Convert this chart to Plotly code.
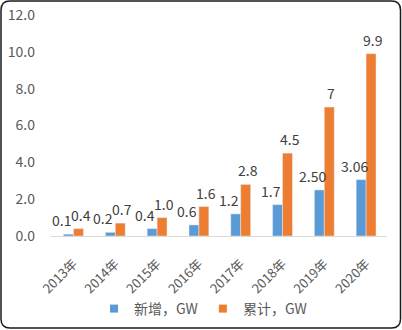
import plotly.graph_objects as go

years = ["2013年", "2014年", "2015年", "2016年", "2017年", "2018年", "2019年", "2020年"]
new_gw = [0.1, 0.2, 0.4, 0.6, 1.2, 1.7, 2.50, 3.06]
new_lbl = ["0.1", "0.2", "0.4", "0.6", "1.2", "1.7", "2.50", "3.06"]
cum_gw = [0.4, 0.7, 1.0, 1.6, 2.8, 4.5, 7, 9.9]
cum_lbl = ["0.4", "0.7", "1.0", "1.6", "2.8", "4.5", "7", "9.9"]
series_names = ["新增，GW", "累计，GW"]
y_ticks = [0, 2, 4, 6, 8, 10, 12]

BLUE = "#5B9BD5"
ORANGE = "#ED7D31"
FONT = "Noto Sans CJK SC"

W, H = 402, 330
ML, MR, MT, MB = 50, 15, 15, 94
PW, PH = W - ML - MR, H - MT - MB

fig = go.Figure()
fig.add_trace(go.Bar(x=years, y=new_gw, marker_color=BLUE, showlegend=False,
                     hoverinfo="y"))
fig.add_trace(go.Bar(x=years, y=cum_gw, marker_color=ORANGE, showlegend=False,
                     hoverinfo="y"))
# legend entries with small square markers
for name, col in zip(series_names, [BLUE, ORANGE]):
    fig.add_trace(go.Scatter(x=[None], y=[None], mode="markers", name=name,
                             marker=dict(symbol="square", size=8, color=col)))

ann = []
for x, v, t in zip(years, new_gw, new_lbl):
    ann.append(dict(x=x, y=v, text=t, showarrow=False, xanchor="center",
                    yanchor="bottom", xshift=-12, yshift=2,
                    font=dict(family=FONT, size=14, color="#404040")))
for x, v, t in zip(years, cum_gw, cum_lbl):
    ann.append(dict(x=x, y=v, text=t, showarrow=False, xanchor="center",
                    yanchor="bottom", xshift=7, yshift=2,
                    font=dict(family=FONT, size=14, color="#404040")))

def px(xp):
    return (xp - ML) / PW

def py(yp):
    return (H - MB - yp) / PH

L, R, T, B, r = 1, 400.5, 1, 328, 9
path = (f"M {px(L + r)},{py(T)} L {px(R - r)},{py(T)} Q {px(R)},{py(T)} {px(R)},{py(T + r)} "
        f"L {px(R)},{py(B - r)} Q {px(R)},{py(B)} {px(R - r)},{py(B)} "
        f"L {px(L + r)},{py(B)} Q {px(L)},{py(B)} {px(L)},{py(B - r)} "
        f"L {px(L)},{py(T + r)} Q {px(L)},{py(T)} {px(L + r)},{py(T)} Z")

fig.update_layout(
    width=W, height=H,
    margin=dict(l=ML, r=MR, t=MT, b=MB, autoexpand=False),
    paper_bgcolor="white", plot_bgcolor="white",
    barmode="group", bargap=0.525, bargroupgap=0,
    font=dict(family=FONT, color="#595959"),
    annotations=ann,
    shapes=[dict(type="path", path=path, xref="paper", yref="paper",
                 line=dict(color="#1a1a1a", width=1.5), layer="above")],
    legend=dict(orientation="h", xref="container", x=203 / W, xanchor="center",
                yref="container", y=1 - 309 / H, yanchor="middle",
                font=dict(family=FONT, size=14, color="#595959"),
                itemwidth=30, tracegroupgap=0, bgcolor="rgba(0,0,0,0)"),
)
fig.update_xaxes(showline=True, linecolor="#D9D9D9", linewidth=1, showgrid=False,
                 ticks="", tickangle=-45, ticklabelstandoff=14, automargin=False,
                 tickfont=dict(family=FONT, size=13, color="#595959"),
                 fixedrange=True)
fig.update_yaxes(range=[0, 12], tickvals=y_ticks, tickformat=".1f", showgrid=False,
                 zeroline=False, showline=False, ticks="", ticklabelstandoff=14,
                 automargin=False,
                 tickfont=dict(family=FONT, size=14, color="#595959"), fixedrange=True)

fig.write_html("out.html", config={"displayModeBar": False})
